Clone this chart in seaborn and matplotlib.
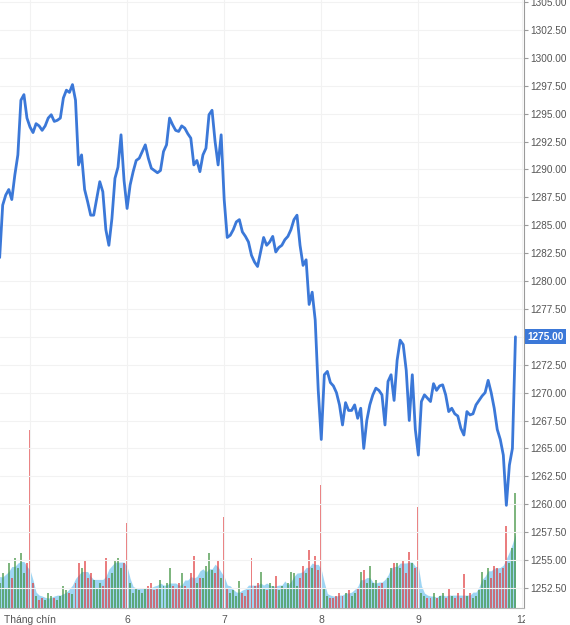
import matplotlib
matplotlib.use('Agg')
import matplotlib.pyplot as plt
import matplotlib.patches as mpatches
import numpy as np
import pandas as pd
import seaborn as sns

# one bar = 45 min, 32 bars per trading day, first bar sits before the first day tick
day_labels = ['Tháng chín', '6', '7', '8', '9', '12']
day_ticks = [0, 1, 2, 3, 4, 5.07]
bars_per_day = 32
first_bar = -10

prices = [
    1282.1, 1286.8, 1287.7, 1288.2, 1287.3, 1289.5, 1291.3, 1296.2, 1296.7, 1294.6,
    1293.8, 1293.3, 1294.1, 1293.9, 1293.5, 1293.9, 1294.6, 1294.9, 1294.3, 1294.4,
    1294.6, 1296.4, 1297.1, 1296.9, 1297.6, 1296.2, 1290.4, 1291.3, 1288.2, 1287.1,
    1285.9, 1285.9, 1287.4, 1288.9, 1288.0, 1284.6, 1283.2, 1285.6, 1289.2, 1290.2,
    1293.1, 1289.0, 1286.5, 1288.6, 1289.8, 1290.8, 1291.0, 1291.6, 1292.2, 1291.0,
    1290.1, 1289.9, 1289.7, 1289.9, 1291.6, 1292.2, 1294.6, 1294.0, 1293.5, 1293.4,
    1293.9, 1293.7, 1293.2, 1292.8, 1290.4, 1290.8, 1289.8, 1291.3, 1291.9, 1294.9,
    1295.3, 1292.5, 1290.4, 1293.1, 1287.3, 1283.9, 1284.1, 1284.6, 1285.3, 1285.5,
    1284.4, 1284.0, 1283.5, 1282.3, 1281.7, 1281.3, 1282.6, 1283.9, 1283.2, 1283.5,
    1284.0, 1282.6, 1283.0, 1283.2, 1283.7, 1284.0, 1284.6, 1285.5, 1285.9, 1283.2,
    1281.4, 1281.9, 1277.9, 1279.0, 1276.5, 1270.2, 1265.8, 1271.6, 1271.9, 1270.9,
    1270.6, 1270.0, 1268.9, 1267.1, 1269.1, 1268.4, 1268.4, 1268.9, 1267.7, 1268.6,
    1265.0, 1267.5, 1268.9, 1269.8, 1270.4, 1270.2, 1269.8, 1267.1, 1271.0, 1271.6,
    1269.3, 1272.9, 1274.7, 1274.3, 1272.0, 1267.5, 1271.6, 1266.7, 1264.4, 1269.2,
    1269.8, 1269.5, 1269.2, 1270.8, 1270.2, 1270.6, 1270.7, 1269.8, 1268.3, 1268.6,
    1268.1, 1267.9, 1266.8, 1266.2, 1268.3, 1268.0, 1268.1, 1268.9, 1269.3, 1269.7,
    1270.0, 1271.1, 1270.0, 1268.6, 1266.7, 1265.8, 1264.4, 1259.9, 1263.5, 1265.0,
    1275.0,
]

volumes = [
    25, 35, 20, 45, 30, 50, 40, 55, 35, 45,
    178, 25, 12, 8, 10, 8, 15, 12, 10, 8,
    12, 22, 18, 15, 14, 25, 45, 40, 47, 30,
    35, 28, 20, 25, 22, 50, 30, 35, 48, 50,
    40, 45, 85, 25, 15, 20, 18, 15, 20, 22,
    25, 18, 20, 28, 22, 25, 40, 22, 20, 25,
    35, 22, 20, 35, 52, 25, 30, 30, 42, 55,
    38, 35, 48, 30, 91, 20, 15, 18, 12, 27,
    15, 12, 18, 50, 22, 25, 36, 20, 18, 25,
    22, 32, 18, 22, 20, 25, 36, 35, 22, 30,
    42, 35, 58, 40, 52, 38, 123, 20, 12, 10,
    10, 12, 15, 12, 15, 18, 12, 15, 20, 36,
    38, 25, 42, 25, 28, 22, 25, 20, 30, 40,
    45, 45, 40, 48, 35, 56, 45, 40, 101, 15,
    12, 10, 10, 15, 10, 12, 15, 10, 20, 12,
    10, 15, 10, 34, 12, 15, 10, 12, 18, 36,
    28, 40, 30, 42, 40, 35, 40, 82, 45, 60,
    115,
]

sns.set_style('white')
plt.rcParams['font.family'] = ['Liberation Sans', 'DejaVu Sans']

df = pd.DataFrame({
    't': (np.arange(len(prices)) + first_bar) / bars_per_day,
    'price': prices,
    'volume': volumes,
})
up = df['price'].diff().fillna(0) >= 0
bar_colors = np.where(up, '#3a8f3a', '#e0393a')
vol_avg = df['volume'].rolling(7, center=True, min_periods=1).quantile(0.55)

fig = plt.figure(figsize=(5.7, 6.25), dpi=100)
rect = [0, 17 / 625, 524 / 570, 608 / 625]

# volume underneath
ax_v = fig.add_axes(rect)
ax_v.fill_between(df['t'], vol_avg, color='#86cbf0', alpha=0.8, linewidth=0, zorder=1)
ax_v.bar(df['t'], df['volume'], width=0.65 / bars_per_day, color=bar_colors,
         alpha=0.65, linewidth=0, zorder=2)
ax_v.set_ylim(0, 608)
ax_v.set_xlim(-0.309, 5.088)
ax_v.axis('off')

# price on top
ax = fig.add_axes(rect, sharex=ax_v)
ax.patch.set_alpha(0)
sns.lineplot(data=df, x='t', y='price', ax=ax, color='#3b78d8', linewidth=2.0)
ax.set_ylim(1250.70, 1305.18)
ax.set_xlim(-0.309, 5.088)
ax.set_xlabel('')
ax.set_ylabel('')

last = prices[-1]
yticks = np.arange(1252.5, 1305.01, 2.5)
ax.set_yticks(yticks)
# the tick at the last price is covered by the price badge
ax.set_yticklabels(['' if abs(v - last) < 1e-6 else f'{v:.2f}' for v in yticks])
ax.yaxis.tick_right()
ax.set_xticks(day_ticks)
ax.set_xticklabels(day_labels)

ax.grid(True, color='#f2f2f2', linewidth=0.8)
ax.set_axisbelow(True)
for side in ['left', 'top']:
    ax.spines[side].set_visible(False)
ax.spines['right'].set_color('#9a9a9a')
ax.spines['bottom'].set_color('#b5b5b5')
ax.tick_params(axis='y', length=3, color='#9a9a9a', labelsize=7.2, labelcolor='#555555', pad=1.5)
ax.tick_params(axis='x', length=3, color='#b5b5b5', labelsize=7.5, labelcolor='#555555', pad=2)

# last day label is cut by the price scale
fig.patches.append(mpatches.Rectangle((525 / 570, 0), 45 / 570, 16 / 625,
                                      transform=fig.transFigure, fc='white',
                                      ec='none', zorder=5))

ax.annotate(f'{last:.2f}', xy=(1, last), xycoords=('axes fraction', 'data'),
            xytext=(2.5, 0), textcoords='offset points', va='center', ha='left',
            fontsize=7.2, fontweight='bold', color='white',
            bbox=dict(boxstyle='square,pad=0.25', fc='#3b78d8', ec='none'))

fig.savefig('out.png', dpi=100)
